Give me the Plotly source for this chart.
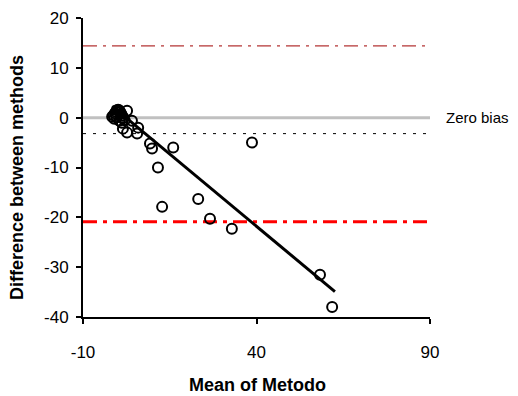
import plotly.graph_objects as go

# Data
mean_vals = [-1.6, -1.2, -0.8, -0.5, -0.2, 0.1, 0.4, 0.7, 1.0, 1.3, 1.6, 2.0, -1.0, -0.3, 0.5, 1.2,
             2.7, 4.1, 5.6, 5.9, 1.5, 2.7, 9.3, 9.9, 16.0, 11.6, 38.7, 12.8, 23.2, 26.6, 32.9, 58.3, 61.8]
diff_vals = [0.2, 0.5, 0.9, 1.2, 1.5, 1.6, 1.5, 1.2, 0.8, 0.4, 0.0, -0.5, -0.2, 0.1, -0.6, -1.0,
             1.4, -0.6, -3.2, -2.0, -2.2, -3.0, -5.2, -6.2, -6.0, -10.0, -5.0, -17.9, -16.3, -20.3, -22.3, -31.5, -38.0]

fit_x = [-1.6, 62.6]
fit_y = [2.3, -34.9]

x_range = [-10, 90]
y_range = [-40, 20]
zero_bias = 0
mean_bias = -3.2
upper_loa = 14.4
lower_loa = -20.9

x_ticks = [-10, 40, 90]
x_tick_text = ["-10", "40", "90"]
y_ticks = [-40, -30, -20, -10, 0, 10, 20]
y_tick_text = ["-40", "-30", "-20", "-10", "0", "10", "20"]

font = "Liberation Sans, Arial, sans-serif"

fig = go.Figure()

def hline(y, color, width, dash):
    fig.add_trace(go.Scatter(x=x_range, y=[y, y], mode="lines",
                             line=dict(color=color, width=width, dash=dash),
                             showlegend=False, hoverinfo="skip"))

hline(zero_bias, "#c0c0c0", 3, "solid")
hline(mean_bias, "black", 1, "3px,7px")
hline(upper_loa, "#a00000", 1, "14px,6px,3px,6px")
hline(lower_loa, "#ff0000", 3, "14px,6px,4px,6px")

fig.add_trace(go.Scatter(x=mean_vals, y=diff_vals, mode="markers",
                         marker=dict(symbol="circle-open", size=10, color="black",
                                     line=dict(width=2, color="black")),
                         showlegend=False))

fig.add_trace(go.Scatter(x=fit_x, y=fit_y, mode="lines",
                         line=dict(color="black", width=3), showlegend=False))

fig.add_annotation(x=1.04, xref="paper", y=zero_bias, yref="y", text="Zero bias",
                   showarrow=False, xanchor="left", yanchor="middle",
                   font=dict(family=font, size=15, color="black"))

fig.add_annotation(x=-0.19, xref="paper", y=0.465, yref="paper",
                   text="<b>Difference between methods</b>", textangle=-90,
                   showarrow=False, xanchor="center", yanchor="middle",
                   font=dict(family=font, size=18, color="black"))

fig.add_annotation(x=0.504, xref="paper", y=-0.227, yref="paper",
                   text="<b>Mean of Metodo</b>",
                   showarrow=False, xanchor="center", yanchor="middle",
                   font=dict(family=font, size=18, color="black"))

fig.update_layout(
    width=518, height=396,
    margin=dict(l=83, r=88, t=18, b=79, autoexpand=False),
    plot_bgcolor="white", paper_bgcolor="white",
    font=dict(family=font, color="black"),
)

fig.update_xaxes(range=x_range, tickvals=x_ticks, ticktext=x_tick_text, showgrid=False, zeroline=False,
                 showline=True, linecolor="black", linewidth=2, automargin=False,
                 ticks="outside", ticklen=5, tickwidth=2, tickcolor="black",
                 ticklabelstandoff=14, tickfont=dict(family=font, size=17))
fig.update_yaxes(range=y_range, tickvals=y_ticks, ticktext=y_tick_text, showgrid=False, zeroline=False,
                 showline=True, linecolor="black", linewidth=2, automargin=False,
                 ticks="outside", ticklen=5, tickwidth=2, tickcolor="black",
                 ticklabelstandoff=4, tickfont=dict(family=font, size=17))

fig.write_html("out.html")
